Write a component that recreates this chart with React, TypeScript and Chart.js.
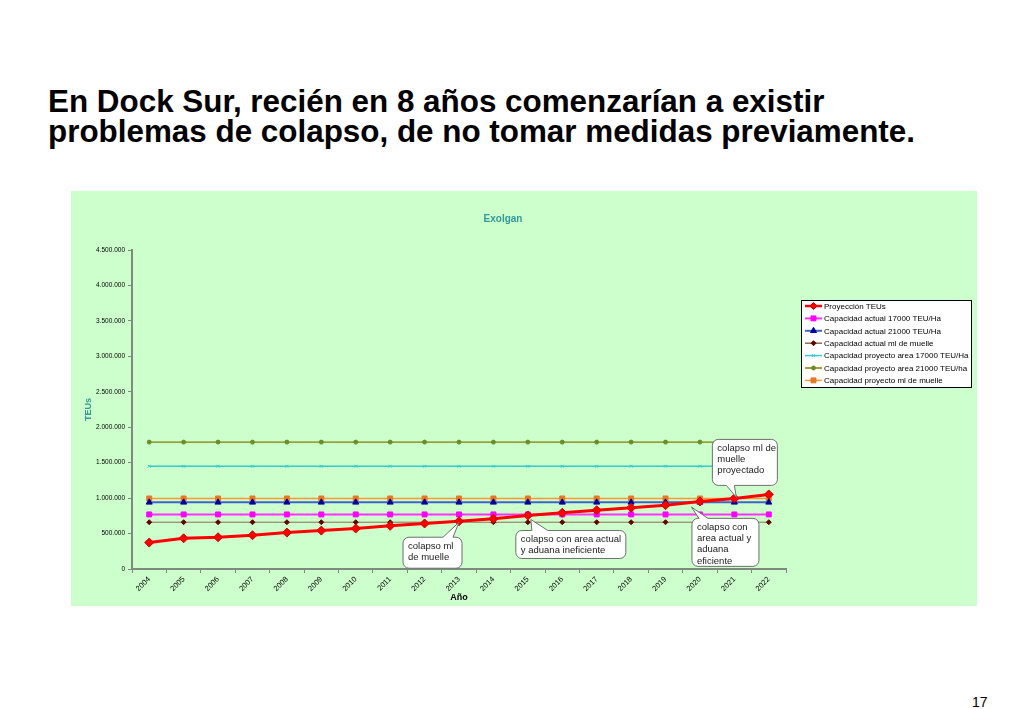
import React, { useEffect, useRef } from 'react';
import { Chart, registerables } from 'chart.js';

Chart.register(...registerables);

// ---------- data ----------
const years = ['2004', '2005', '2006', '2007', '2008', '2009', '2010', '2011', '2012', '2013', '2014', '2015', '2016', '2017', '2018', '2019', '2020', '2021', '2022'];

const proyeccionTEUs = [373000, 433000, 448000, 476000, 514000, 542000, 571000, 609000, 642000, 674000, 708000, 755000, 793000, 830000, 864000, 900000, 953000, 996000, 1052000];
const capActual17000 = [770000, 770000, 770000, 770000, 770000, 770000, 770000, 770000, 770000, 770000, 770000, 770000, 770000, 770000, 770000, 770000, 770000, 770000, 770000];
const capActual21000 = [940000, 940000, 940000, 940000, 940000, 940000, 940000, 940000, 940000, 940000, 940000, 940000, 940000, 940000, 940000, 940000, 940000, 940000, 940000];
const capActualMuelle = [660000, 660000, 660000, 660000, 660000, 660000, 660000, 660000, 660000, 660000, 660000, 660000, 660000, 660000, 660000, 660000, 660000, 660000, 660000];
const capProyecto17000 = [1450000, 1450000, 1450000, 1450000, 1450000, 1450000, 1450000, 1450000, 1450000, 1450000, 1450000, 1450000, 1450000, 1450000, 1450000, 1450000, 1450000, 1450000, 1450000];
const capProyecto21000 = [1790000, 1790000, 1790000, 1790000, 1790000, 1790000, 1790000, 1790000, 1790000, 1790000, 1790000, 1790000, 1790000, 1790000, 1790000, 1790000, 1790000, 1790000, 1790000];
const capProyectoMuelle = [995000, 995000, 995000, 995000, 995000, 995000, 995000, 995000, 995000, 995000, 995000, 995000, 995000, 995000, 995000, 995000, 995000, 995000, 995000];

const seriesNames = [
  'Proyección TEUs',
  'Capacidad actual 17000 TEU/Ha',
  'Capacidad actual 21000 TEU/Ha',
  'Capacidad actual ml de muelle',
  'Capacidad proyecto area 17000 TEU/Ha',
  'Capacidad proyecto area 21000 TEU/ha',
  'Capacidad proyecto ml de muelle',
];

const yMin = 0;
const yMax = 4500000;
const yStep = 500000;

const pageTitle = ['En Dock Sur, recién en 8 años comenzarían a existir', 'problemas de colapso, de no tomar medidas previamente.'];
const chartTitle = 'Exolgan';
const yAxisTitle = 'TEUs';
const xAxisTitle = 'Año';
const pageNumber = '17';

const calloutTexts = [
  ['colapso ml', 'de muelle'],
  ['colapso con area actual', 'y aduana ineficiente'],
  ['colapso con', 'area actual y', 'aduana', 'eficiente'],
  ['colapso ml de', 'muelle', 'proyectado'],
];
// which point each callout refers to: [year index, series index]
const calloutAnchors = [
  [9, 0],
  [11, 0],
  [16, 2],
  [17, 0],
];

const FONT = '"Liberation Sans", Arial, Helvetica, sans-serif';

const fmt = (v: number) => String(Math.round(v)).replace(/\B(?=(\d{3})+(?!\d))/g, '.');

function drawMarker(ctx: CanvasRenderingContext2D, style: string, x: number, y: number, r: number, fill: string, stroke: string) {
  ctx.save();
  ctx.fillStyle = fill;
  ctx.strokeStyle = stroke;
  ctx.lineWidth = 1;
  ctx.beginPath();
  if (style === 'rectRot') {
    ctx.moveTo(x, y - r);
    ctx.lineTo(x + r, y);
    ctx.lineTo(x, y + r);
    ctx.lineTo(x - r, y);
    ctx.closePath();
    ctx.fill();
    ctx.stroke();
  } else if (style === 'rect') {
    const s = r * Math.SQRT1_2;
    ctx.rect(x - s, y - s, 2 * s, 2 * s);
    ctx.fill();
    ctx.stroke();
  } else if (style === 'triangle') {
    ctx.moveTo(x, y - r);
    ctx.lineTo(x + r * 0.87, y + r * 0.5);
    ctx.lineTo(x - r * 0.87, y + r * 0.5);
    ctx.closePath();
    ctx.fill();
    ctx.stroke();
  } else if (style === 'circle') {
    ctx.arc(x, y, r, 0, Math.PI * 2);
    ctx.fill();
    ctx.stroke();
  } else if (style === 'crossRot') {
    const s = r * Math.SQRT1_2;
    ctx.moveTo(x - s, y - s);
    ctx.lineTo(x + s, y + s);
    ctx.moveTo(x + s, y - s);
    ctx.lineTo(x - s, y + s);
    ctx.stroke();
  }
  ctx.restore();
}

const legendPlugin = {
  id: 'boxLegend',
  afterDraw(chart: any) {
    const ctx: CanvasRenderingContext2D = chart.ctx;
    const x = 730, y = 109, w = 170, h = 87;
    ctx.save();
    ctx.fillStyle = '#ffffff';
    ctx.fillRect(x, y, w, h);
    ctx.strokeStyle = '#000000';
    ctx.lineWidth = 1;
    ctx.strokeRect(x + 0.5, y + 0.5, w, h);
    chart.data.datasets.forEach((ds: any, i: number) => {
      const cy = y + 6 + i * 12.4;
      ctx.strokeStyle = ds.borderColor;
      ctx.lineWidth = Math.max(1.5, Math.min(ds.borderWidth, 2.5));
      ctx.beginPath();
      ctx.moveTo(x + 4, cy);
      ctx.lineTo(x + 21, cy);
      ctx.stroke();
      drawMarker(ctx, ds.pointStyle, x + 12.5, cy, Math.min(ds.pointRadius, 3.5), ds.pointBackgroundColor, ds.pointBorderColor);
      ctx.fillStyle = '#000000';
      ctx.font = `8px ${FONT}`;
      ctx.textAlign = 'left';
      ctx.textBaseline = 'middle';
      ctx.fillText(ds.label, x + 23, cy + 0.5);
    });
    ctx.restore();
  },
};

const titlePlugin = {
  id: 'chartTitleText',
  afterDraw(chart: any) {
    const ctx: CanvasRenderingContext2D = chart.ctx;
    ctx.save();
    ctx.fillStyle = '#339999';
    ctx.font = `bold 10px ${FONT}`;
    ctx.textAlign = 'center';
    ctx.textBaseline = 'middle';
    ctx.fillText(chartTitle, 432, 28);
    ctx.restore();
  },
};

// geometry of each callout box relative to its anchor point (px)
const calloutGeometry = [
  { bx: -56, by: 16, w: 59, h: 31, side: 'top', b1: -16, b2: -6, tx: 0, ty: 1 },
  { bx: -12, by: 15, w: 110, h: 28, side: 'top', b1: 4, b2: 20, tx: 3, ty: 4 },
  { bx: -8, by: 16, w: 67, h: 48, side: 'top', b1: -1, b2: 8, tx: -8.5, ty: 4.7 },
  { bx: -22, by: -59, w: 65, h: 46, side: 'bottom', b1: -8, b2: 0, tx: 2, ty: -1 },
];

const calloutPlugin = {
  id: 'callouts',
  afterDatasetsDraw(chart: any) {
    const ctx: CanvasRenderingContext2D = chart.ctx;
    const xs = chart.scales.x;
    const ys = chart.scales.y;
    ctx.save();
    calloutTexts.forEach((lines, i) => {
      const [idx, dsi] = calloutAnchors[i];
      const val = chart.data.datasets[dsi].data[idx];
      const ax = xs.getPixelForValue(idx);
      const ay = ys.getPixelForValue(val);
      const g = calloutGeometry[i];
      const x = ax + g.bx, y = ay + g.by, w = g.w, h = g.h, r = 6;
      const tipX = ax + g.tx, tipY = ay + g.ty;
      const b1 = ax + g.b1, b2 = ax + g.b2;
      ctx.beginPath();
      ctx.moveTo(x + r, y);
      if (g.side === 'top') {
        ctx.lineTo(b1, y);
        ctx.lineTo(tipX, tipY);
        ctx.lineTo(b2, y);
      }
      ctx.lineTo(x + w - r, y);
      ctx.arcTo(x + w, y, x + w, y + r, r);
      ctx.lineTo(x + w, y + h - r);
      ctx.arcTo(x + w, y + h, x + w - r, y + h, r);
      if (g.side === 'bottom') {
        ctx.lineTo(b2, y + h);
        ctx.lineTo(tipX, tipY);
        ctx.lineTo(b1, y + h);
      }
      ctx.lineTo(x + r, y + h);
      ctx.arcTo(x, y + h, x, y + h - r, r);
      ctx.lineTo(x, y + r);
      ctx.arcTo(x, y, x + r, y, r);
      ctx.closePath();
      ctx.fillStyle = '#ffffff';
      ctx.fill();
      ctx.strokeStyle = '#6e6e6e';
      ctx.lineWidth = 1;
      ctx.stroke();
      ctx.fillStyle = '#222222';
      ctx.font = `9.5px ${FONT}`;
      ctx.textAlign = 'left';
      ctx.textBaseline = 'middle';
      lines.forEach((t, k) => {
        ctx.fillText(t, x + 5, y + 8.8 + k * 11.3);
      });
    });
    ctx.restore();
  },
};

const axisColor = '#7d8a7d';

export default function App() {
  const canvasRef = useRef<HTMLCanvasElement | null>(null);

  useEffect(() => {
    if (!canvasRef.current) return;
    Chart.defaults.font.family = FONT;
    const chart = new Chart(canvasRef.current, {
      type: 'line',
      data: {
        labels: years,
        datasets: [
          {
            label: seriesNames[0], data: proyeccionTEUs,
            borderColor: '#FF0000', borderWidth: 3,
            pointStyle: 'rectRot', pointRadius: 4.5, pointHoverRadius: 4.5,
            pointBackgroundColor: '#FF0000', pointBorderColor: '#CC0000', pointBorderWidth: 1,
          },
          {
            label: seriesNames[1], data: capActual17000,
            borderColor: '#FF33FF', borderWidth: 2,
            pointStyle: 'rect', pointRadius: 3.5, pointHoverRadius: 3.5,
            pointBackgroundColor: '#FF00FF', pointBorderColor: '#FF00FF', pointBorderWidth: 1,
          },
          {
            label: seriesNames[2], data: capActual21000,
            borderColor: '#3F64C8', borderWidth: 2,
            pointStyle: 'triangle', pointRadius: 3.5, pointHoverRadius: 3.5,
            pointBackgroundColor: '#000099', pointBorderColor: '#000099', pointBorderWidth: 1,
          },
          {
            label: seriesNames[3], data: capActualMuelle,
            borderColor: '#8C6E50', borderWidth: 1,
            pointStyle: 'rectRot', pointRadius: 2.5, pointHoverRadius: 2.5,
            pointBackgroundColor: '#660000', pointBorderColor: '#660000', pointBorderWidth: 1,
          },
          {
            label: seriesNames[4], data: capProyecto17000,
            borderColor: '#33CCCC', borderWidth: 1.5,
            pointStyle: 'crossRot', pointRadius: 2, pointHoverRadius: 2,
            pointBackgroundColor: '#33CCCC', pointBorderColor: '#33CCCC', pointBorderWidth: 1,
          },
          {
            label: seriesNames[5], data: capProyecto21000,
            borderColor: '#808000', borderWidth: 1.2,
            pointStyle: 'circle', pointRadius: 2, pointHoverRadius: 2,
            pointBackgroundColor: '#6B8E23', pointBorderColor: '#6B8E23', pointBorderWidth: 1,
          },
          {
            label: seriesNames[6], data: capProyectoMuelle,
            borderColor: '#FF9933', borderWidth: 1.5,
            pointStyle: 'rect', pointRadius: 3.5, pointHoverRadius: 3.5,
            pointBackgroundColor: '#E87722', pointBorderColor: '#E87722', pointBorderWidth: 1,
          },
        ],
      },
      options: {
        responsive: false,
        animation: false,
        devicePixelRatio: 1,
        layout: { padding: { top: 59, right: 191, bottom: 0, left: 0 } },
        elements: { line: { tension: 0 } },
        plugins: {
          legend: { display: false },
          title: { display: false },
          tooltip: { enabled: false },
        },
        scales: {
          x: {
            offset: true,
            grid: { display: true, offset: true, drawOnChartArea: false, drawTicks: true, tickLength: 4, color: axisColor },
            border: { display: true, color: axisColor, width: 2 },
            ticks: {
              autoSkip: false, minRotation: 45, maxRotation: 45, padding: 2,
              color: '#000000', font: { size: 7.5 },
            },
            title: { display: true, text: xAxisTitle, color: '#000000', font: { size: 9, weight: 'bold' }, padding: 3 },
            afterFit: (s: any) => { s.height = 37; s.paddingLeft = 0; s.paddingRight = 0; },
          },
          y: {
            min: yMin, max: yMax,
            grid: { display: true, drawOnChartArea: false, drawTicks: true, tickLength: 4, color: axisColor },
            border: { display: true, color: axisColor, width: 2 },
            ticks: {
              stepSize: yStep, padding: 3, color: '#000000', font: { size: 6.5 },
              callback: (v: any) => fmt(Number(v)),
            },
            title: { display: true, text: yAxisTitle, color: '#339999', font: { size: 9, weight: 'bold' }, padding: 12 },
            afterFit: (s: any) => { s.width = 61; s.paddingTop = 0; s.paddingBottom = 0; },
          },
        },
      } as any,
      plugins: [calloutPlugin, legendPlugin, titlePlugin],
    });
    return () => chart.destroy();
  }, []);

  return (
    <div style={{ position: 'absolute', left: 0, top: 0, width: 1024, height: 709, overflow: 'hidden', background: '#ffffff', fontFamily: FONT }}>
      <div style={{ position: 'absolute', left: 48, top: 87, fontSize: 31.4, fontWeight: 'bold', lineHeight: '30px', color: '#000000', whiteSpace: 'nowrap' }}>
        {pageTitle.map((t, i) => (<div key={i}>{t}</div>))}
      </div>
      <canvas
        ref={canvasRef}
        width={906}
        height={415}
        style={{ position: 'absolute', left: 71, top: 191, width: 906, height: 415, background: '#CCFFCC' }}
      />
      <div style={{ position: 'absolute', left: 972, top: 695, fontSize: 14, lineHeight: '14px', color: '#000000' }}>{pageNumber}</div>
    </div>
  );
}
